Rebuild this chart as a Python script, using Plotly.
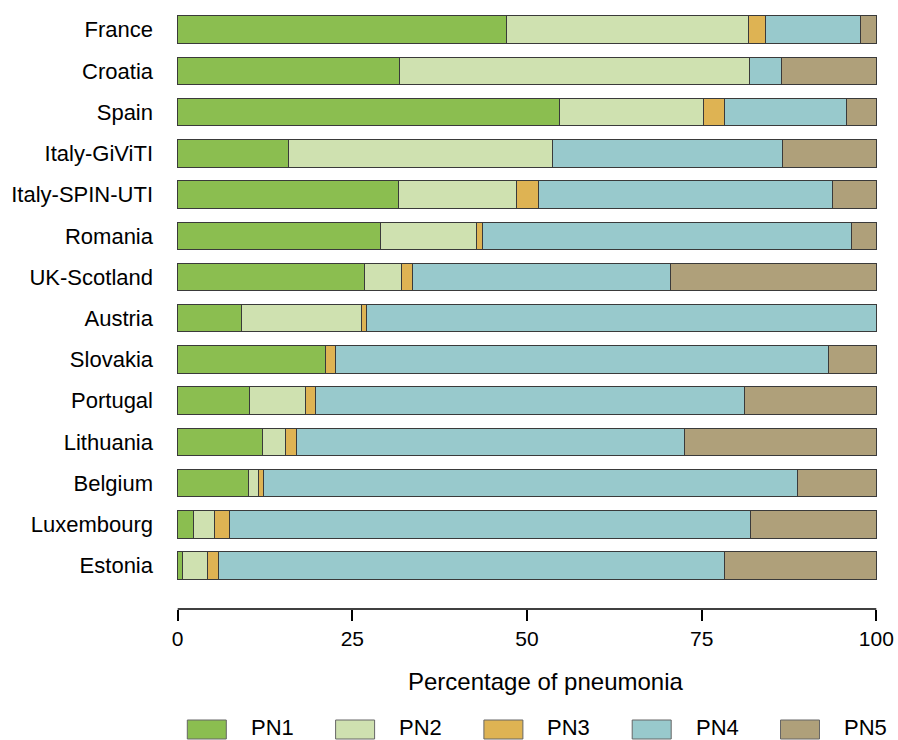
import plotly.graph_objects as go

# Distribution of pneumonia categories (PN1-PN5) per network, in percent
countries = ["France", "Croatia", "Spain", "Italy-GiViTI", "Italy-SPIN-UTI",
             "Romania", "UK-Scotland", "Austria", "Slovakia", "Portugal",
             "Lithuania", "Belgium", "Luxembourg", "Estonia"]
pn1 = [47.0, 31.8, 54.6, 15.8, 31.6, 29.1, 26.8, 9.1, 21.2, 10.3, 12.2, 10.2, 2.3, 0.7]
pn2 = [34.7, 50.1, 20.6, 37.8, 16.9, 13.6, 5.3, 17.2, 0.0, 8.0, 3.2, 1.4, 2.9, 3.5]
pn3 = [2.5, 0.0, 3.1, 0.0, 3.2, 0.9, 1.5, 0.7, 1.4, 1.4, 1.6, 0.7, 2.2, 1.6]
pn4 = [13.6, 4.6, 17.5, 33.0, 42.1, 52.9, 37.0, 73.0, 70.6, 61.4, 55.6, 76.4, 74.6, 72.5]
pn5 = [2.2, 13.5, 4.2, 13.4, 6.2, 3.5, 29.4, 0.0, 6.8, 18.9, 27.4, 11.3, 18.0, 21.7]

series_names = ["PN1", "PN2", "PN3", "PN4", "PN5"]
series_values = [pn1, pn2, pn3, pn4, pn5]
series_colors = ["#8BBE50", "#CFE1B0", "#DEB353", "#98C9CC", "#AFA07A"]

x_ticks = [0, 25, 50, 75, 100]
x_title = "Percentage of pneumonia"

FONT = "Liberation Sans, Arial, sans-serif"

fig = go.Figure()
for name, vals, col in zip(series_names, series_values, series_colors):
    fig.add_trace(go.Bar(
        name=name, y=countries, x=vals, orientation="h",
        width=0.667,
        marker=dict(color=col, line=dict(color="#3a3a3a", width=1)),
        showlegend=False,
        hovertemplate="%{y}: %{x}%<extra>" + name + "</extra>",
    ))

# Plot area geometry (pixels) used to lay out the hand-built legend
L, R, T, B = 177, 21, 5, 131
W, H = 898 - L - R, 740 - T - B


def px_x(p):
    return (p - L) / W


def px_y(p):
    return (T + H - p) / H


shapes = [
    # x axis line spanning only the 0-100 range
    dict(type="line", xref="x", yref="paper", x0=0, x1=100, y0=0, y1=0,
         line=dict(color="black", width=1.5)),
]
annotations = [
    dict(text=x_title, xref="paper", yref="paper", x=px_x(546), y=px_y(681),
         xanchor="center", yanchor="middle", showarrow=False,
         font=dict(family=FONT, size=24, color="black")),
]

# Legend row: large swatches followed by the series label
for i, (name, col) in enumerate(zip(series_names, series_colors)):
    left = 187.3 + i * 148.3
    shapes.append(dict(type="rect", xref="paper", yref="paper",
                       x0=px_x(left), x1=px_x(left + 39),
                       y0=px_y(720), y1=px_y(739),
                       fillcolor=col, line=dict(color="#666666", width=1)))
    annotations.append(dict(text=name, xref="paper", yref="paper",
                            x=px_x(left + 62.5), y=px_y(727),
                            xanchor="left", yanchor="middle", showarrow=False,
                            borderpad=0,
                            font=dict(family=FONT, size=22, color="black")))

fig.update_layout(
    barmode="stack",
    width=898, height=740,
    margin=dict(l=L, r=R, t=T, b=B, pad=0),
    paper_bgcolor="white", plot_bgcolor="white",
    font=dict(family=FONT, color="black"),
    xaxis=dict(range=[-0.1, 100.1], tickvals=x_ticks, ticks="outside",
               ticklen=11, tickwidth=1.5, tickcolor="black",
               showline=False, showgrid=False, zeroline=False,
               tickfont=dict(family=FONT, size=21, color="black"),
               fixedrange=True),
    yaxis=dict(categoryorder="array", categoryarray=countries,
               range=[14.055, -0.6], showgrid=False, zeroline=False,
               showline=False, ticks="", ticklabelstandoff=23,
               tickfont=dict(family=FONT, size=22, color="black"),
               fixedrange=True),
    shapes=shapes,
    annotations=annotations,
)

fig.write_html("out.html")
